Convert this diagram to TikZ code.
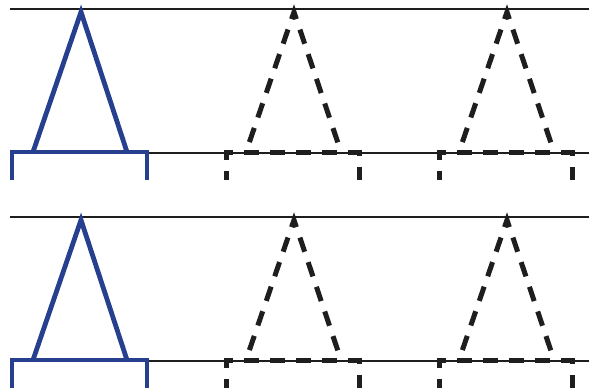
\documentclass[tikz,border=0pt]{standalone}
\definecolor{tblue}{RGB}{38,64,143}
\definecolor{tblack}{RGB}{30,30,30}
\tikzset{
  guide/.style={draw=tblack, line width=1.8pt},
  solidshape/.style={draw=tblue, line width=4.8pt, line join=miter},
  dashshape/.style={draw=tblack, line width=5pt, dash pattern=on 15pt off 11pt, dash phase=6pt},
}
\begin{document}
\begin{tikzpicture}[x=1pt,y=-1pt]
\useasboundingbox (0,0) rectangle (589,388);
\foreach \dy in {0,208}{
  \begin{scope}[yshift=-\dy pt]
  \draw[guide] (10,9) -- (589,9);
  \draw[guide] (10,153) -- (589,153);
  % solid blue
  \draw[solidshape] (33,152) -- (81,12) -- (127,152);
  \draw[solidshape] (12,180) -- (12,152) -- (147,152) -- (147,180);
  % dashed copies
  \foreach \ox in {0,213}{
    \draw[dashshape, dash phase=15.5pt, line join=miter] (246+\ox,152) -- (294+\ox,12) -- (341+\ox,152);
    \draw[dashshape] (226+\ox,180) -- (226+\ox,152) -- (359+\ox,152) -- (359+\ox,180);
  }
  \end{scope}
}
\end{tikzpicture}
\end{document}
